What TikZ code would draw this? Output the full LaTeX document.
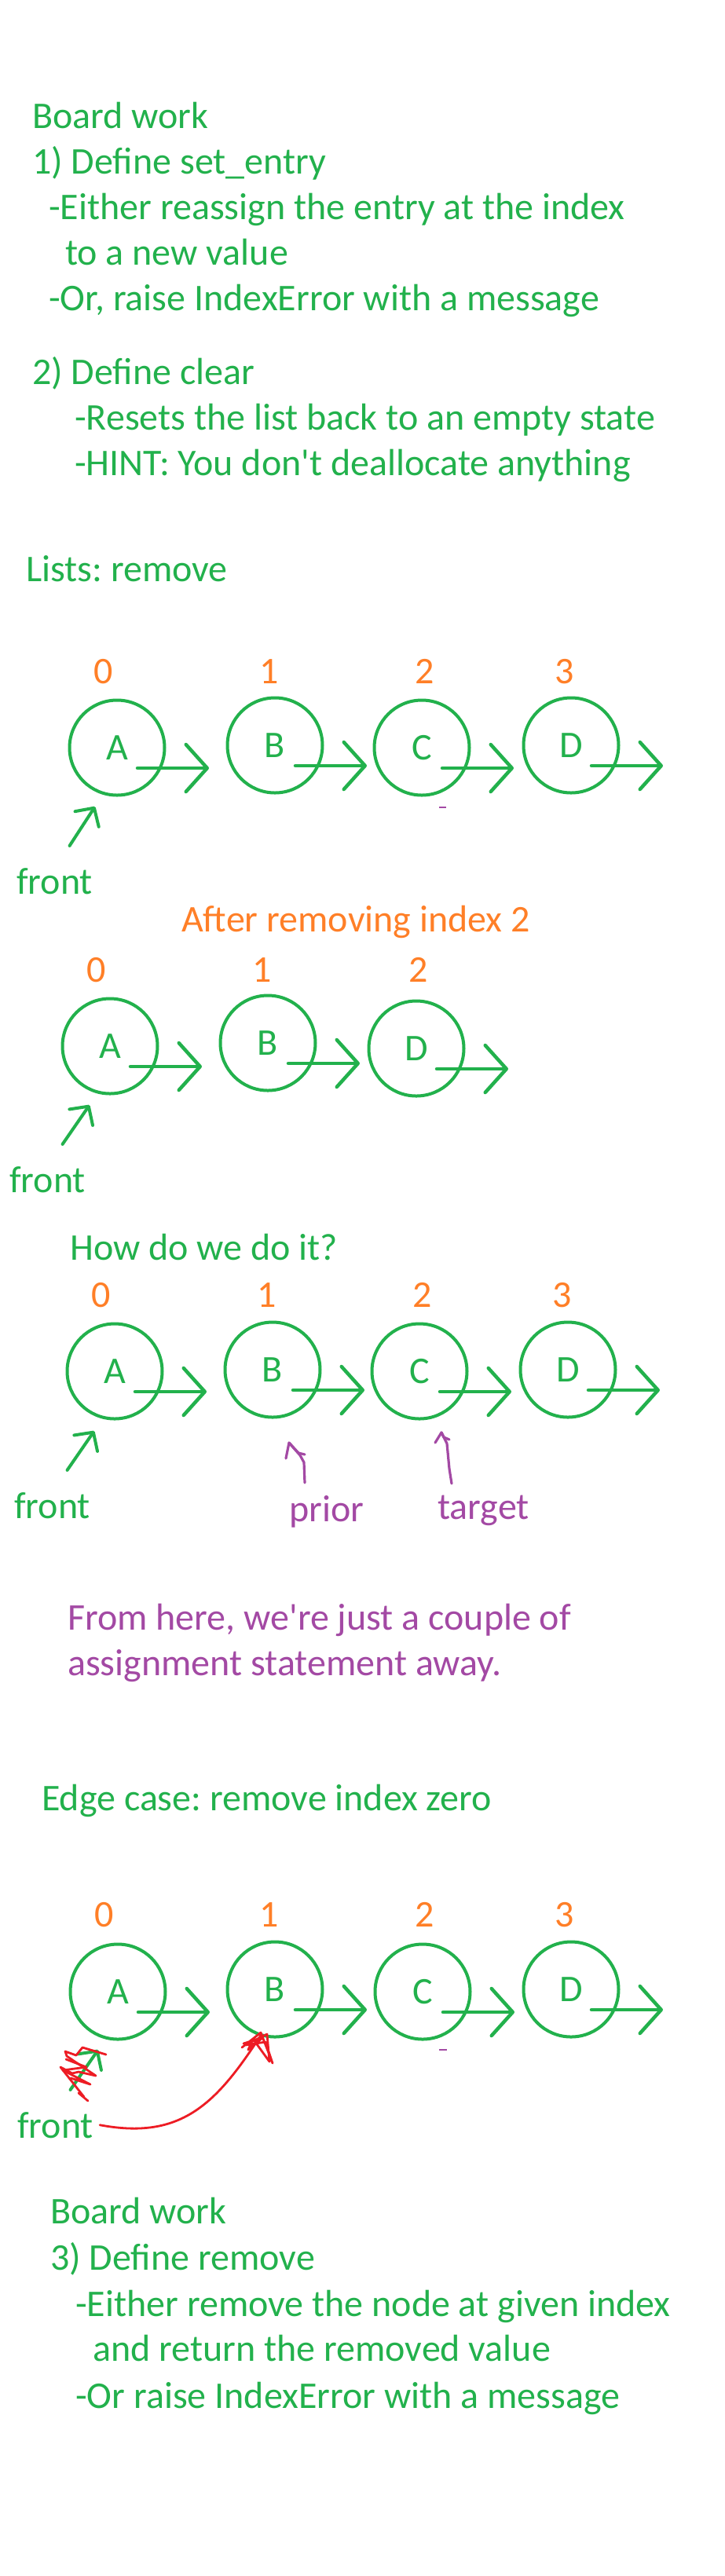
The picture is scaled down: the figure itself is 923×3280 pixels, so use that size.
\documentclass[tikz,border=0pt]{standalone}
\usepackage{fontspec}
\setmainfont{Carlito}
\usepackage{tikz}
\usepackage{xcolor}
\usetikzlibrary{arrows.meta}
\definecolor{pgreen}{HTML}{22B14C}
\definecolor{porange}{HTML}{FF7F27}
\definecolor{ppurple}{HTML}{A349A4}
\definecolor{pred}{HTML}{ED1C24}
\frenchspacing

\begin{document}
\begin{tikzpicture}[x=1pt,y=-1pt]
\tikzset{every node/.style={inner sep=0pt}}
\tikzset{board/.style={anchor=base west,text=pgreen}}
\tikzset{note/.style={anchor=base west,text=ppurple}}
\tikzset{idx/.style={anchor=base,text=porange}}
\tikzset{listnode/.style={circle,draw=pgreen,line width=4pt,minimum size=121pt,text=pgreen}}
\tikzset{link/.style={draw=pgreen,line width=4.5pt,line cap=round,-{Straight Barb[length=27pt,width=60pt,round]}}}
\tikzset{ptr/.style={draw=pgreen,line width=4pt,line cap=round,-{Straight Barb[length=17pt,width=36pt,round]}}}
\tikzset{hand/.style={draw=ppurple,line width=3.2pt,line cap=round,line join=round}}
\tikzset{redpen/.style={draw=pred,line width=2.8pt,line cap=round,line join=round}}

\fontsize{48}{58}\selectfont

\path[fill=white] (0,0) rectangle (923,3280);
\useasboundingbox (0,0) rectangle (923,3280);

% board work 1 and 2
\node[board] (bw1) at (41,163) {Board work};
\node[board] (def1) at (41,221) {1) Define set\_entry};
\node[board] (def1a) at (62,279) {-Either reassign the entry at the index};
\node[board] (def1b) at (83,337) {to a new value};
\node[board] (def1c) at (62,395) {-Or, raise IndexError with a message};
\node[board] (def2) at (41,489) {2) Define clear};
\node[board] (def2a) at (95,547) {-Resets the list back to an empty state};
\node[board] (def2b) at (95,605) {-HINT: You don\textquotesingle t deallocate anything};
\node[board] (lists) at (33,740) {Lists: remove};

% list before removing
\begin{scope}[shift={(149,952)}]
\node[listnode] (a1) at (0,0) {A};
\node[listnode] (b1) at (201,-3) {B};
\node[listnode] (c1) at (388,0) {C};
\node[listnode] (d1) at (578,-3) {D};
\node[idx] (i10) at (-17,-82) {0};
\node[idx] (i11) at (194,-82) {1};
\node[idx] (i12) at (392,-82) {2};
\node[idx] (i13) at (570,-82) {3};
\draw[link] ([shift={(26,26)}]a1.center) -- ++(91,0);
\draw[link] ([shift={(26,26)}]b1.center) -- ++(91,0);
\draw[link] ([shift={(26,26)}]c1.center) -- ++(91,0);
\draw[link] ([shift={(26,26)}]d1.center) -- ++(91,0);
\node[board] (front1) at (-128,186) {front};
\draw[ptr] ([shift={(19,-28)}]front1.north) -- ([shift={(-28,75)}]a1.center);
\draw[ppurple,line width=2pt] (410,76) -- (419,76);
\end{scope}

\node[anchor=base west,text=porange] (after) at (231,1186) {After removing index 2};

% list after removing
\begin{scope}[shift={(140,1332)}]
\node[listnode] (a2) at (0,0) {A};
\node[listnode] (b2) at (201,-4) {B};
\node[listnode] (d2) at (390,3) {D};
\node[idx] (i20) at (-17,-82) {0};
\node[idx] (i21) at (194,-82) {1};
\node[idx] (i22) at (393,-82) {2};
\draw[link] ([shift={(26,26)}]a2.center) -- ++(91,0);
\draw[link] ([shift={(26,26)}]b2.center) -- ++(91,0);
\draw[link] ([shift={(26,26)}]d2.center) -- ++(91,0);
\node[board] (front2) at (-128,186) {front};
\draw[ptr] ([shift={(19,-28)}]front2.north) -- ([shift={(-26,75)}]a2.center);
\end{scope}

\node[board] (how) at (89,1604) {How do we do it?};

% prior and target
\begin{scope}[shift={(146,1746)}]
\node[listnode] (a3) at (0,0) {A};
\node[listnode] (b3) at (201,-2) {B};
\node[listnode] (c3) at (388,0) {C};
\node[listnode] (d3) at (577,-2) {D};
\node[idx] (i30) at (-17,-82) {0};
\node[idx] (i31) at (194,-82) {1};
\node[idx] (i32) at (392,-82) {2};
\node[idx] (i33) at (570,-82) {3};
\draw[link] ([shift={(26,26)}]a3.center) -- ++(91,0);
\draw[link] ([shift={(26,26)}]b3.center) -- ++(91,0);
\draw[link] ([shift={(26,26)}]c3.center) -- ++(91,0);
\draw[link] ([shift={(26,26)}]d3.center) -- ++(91,0);
\node[board] (front3) at (-128,187) {front};
\draw[ptr] ([shift={(19,-28)}]front3.north) -- ([shift={(-26,76)}]a3.center);
\node[note] (prior) at (222,191) {prior};
\node[note] (target) at (411,188) {target};
\coordinate (priortail) at (242,142);
\coordinate (priortip) at (222,91);
\draw[hand] (priortail) -- ++(-1,-26) -- ++(-5,-9) -- (priortip) -- ++(-4,20);
\draw[hand] (priortip) -- ++(12,13) -- ++(8,2);
\coordinate (targettail) at (429,143);
\coordinate (targettip) at (416,78);
\draw[hand] (targettail) -- ++(-3,-19) -- ++(-3,-32) -- (targettip) -- ++(-8,13);
\draw[hand] (targettip) -- ++(3,6) -- ++(7,3);
\end{scope}

\node[note] (from1) at (86,2075) {From here, we\textquotesingle re just a couple of};
\node[note] (from2) at (86,2133) {assignment statement away.};

\node[board] (edge) at (53,2305) {Edge case: remove index zero};

% edge case
\begin{scope}[shift={(150,2536)}]
\node[listnode] (a4) at (0,0) {A};
\node[listnode] (b4) at (200,-3) {B};
\node[listnode] (c4) at (388,0) {C};
\node[listnode] (d4) at (577,-3) {D};
\node[idx] (i40) at (-17,-83) {0};
\node[idx] (i41) at (193,-83) {1};
\node[idx] (i42) at (391,-83) {2};
\node[idx] (i43) at (569,-83) {3};
\draw[link] ([shift={(26,26)}]a4.center) -- ++(91,0);
\draw[link] ([shift={(26,26)}]b4.center) -- ++(91,0);
\draw[link] ([shift={(26,26)}]c4.center) -- ++(91,0);
\draw[link] ([shift={(26,26)}]d4.center) -- ++(91,0);
\node[board] (front4) at (-128,186) {front};
\draw[ptr] ([shift={(19,-28)}]front4.north) -- ([shift={(-25,74)}]a4.center);
\draw[ppurple,line width=2pt] (409,74) -- (419,74);
% crossed out pointer
\draw[redpen] (-38,139) -- (-50,129) -- (-43,134) -- (-73,96) -- (-58,104) -- (-50,102) -- (-28,107) -- (-65,82) -- (-67,76) -- (-53,81) -- (-45,71) -- (-15,80);
\draw[redpen] (-66,86) -- (-40,96) -- (-70,100) -- (-35,118) -- (-60,110);
\coordinate (redtip) at ([shift={(-17,57)}]b4.center);
\draw[redpen] ([xshift=8pt]front4.east) .. controls (80,189) and (125,144) .. (redtip);
\draw[redpen] (158,71) -- (182,52) -- (197,91) -- (188,64) -- (162,68) -- (190,54) -- (193,89) -- (172,60) -- (166,74) -- (185,58) -- (160,66);
\end{scope}

% board work 3
\node[board] (bw3) at (64,2831) {Board work};
\node[board] (def3) at (64,2890) {3) Define remove};
\node[board] (def3a) at (96,2949) {-Either remove the node at given index};
\node[board] (def3b) at (118,3006) {and return the removed value};
\node[board] (def3c) at (96,3066) {-Or raise IndexError with a message};

\end{tikzpicture}
\end{document}
